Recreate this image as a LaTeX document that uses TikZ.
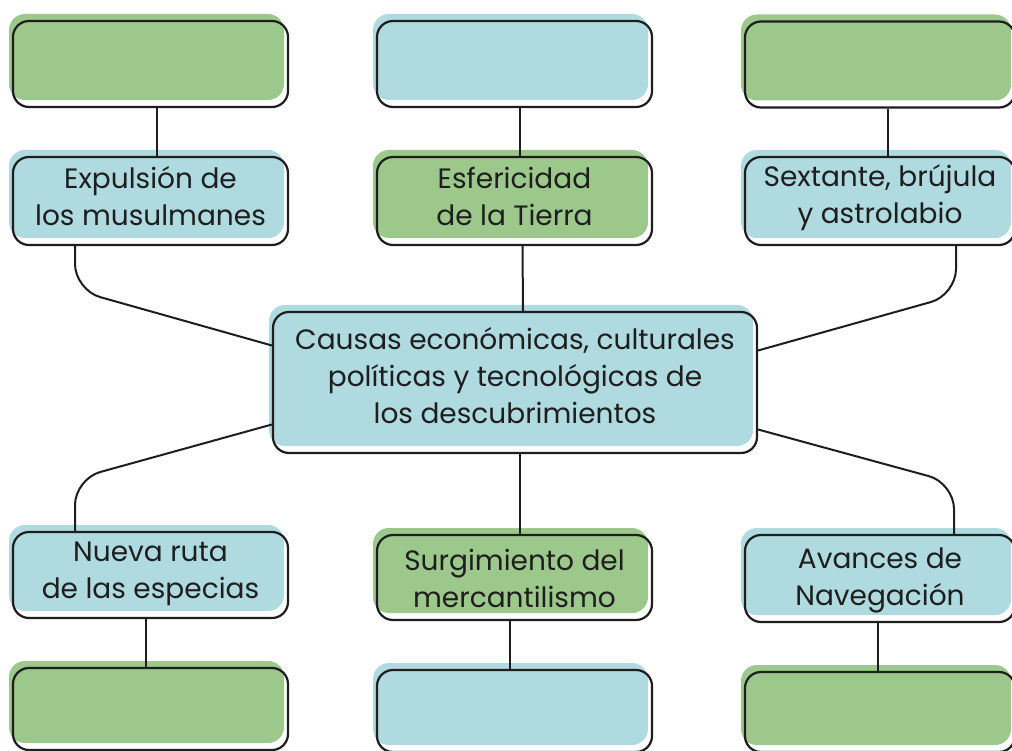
\documentclass[tikz,border=0pt]{standalone}
\usepackage{fontspec}
\setmainfont{Poppins}
\definecolor{boxblue}{HTML}{AEDAE0}
\definecolor{boxgreen}{HTML}{9CC98B}
\definecolor{ink}{HTML}{1E1E1E}
\tikzset{
  box/.style={draw=ink, line width=2.2pt, rounded corners=16pt, inner sep=0pt},
  bluebox/.style={box, preaction={fill=boxblue, transform canvas={xshift=-4pt, yshift=7pt}}},
  greenbox/.style={box, preaction={fill=boxgreen, transform canvas={xshift=-4pt, yshift=7pt}}},
  txt/.style={inner sep=0pt, align=center, text=ink, font=\fontsize{28}{37}\selectfont},
  link/.style={draw=ink, line width=2pt, rounded corners=26pt},
}
\begin{document}
\begin{tikzpicture}[x=1pt, y=-1pt]
\useasboundingbox (0,0) rectangle (1012,751);
% top row
\node[greenbox, minimum width=275pt, minimum height=86pt] (A1) at (150.5,64) {};
\node[bluebox,  minimum width=275pt, minimum height=86pt] (A2) at (514.5,64) {};
\node[greenbox, minimum width=270pt, minimum height=86pt] (A3) at (880,64.5) {};
% second row
\node[bluebox,  minimum width=275pt, minimum height=88pt] (B1) at (150.5,201) {};
\node[greenbox, minimum width=275pt, minimum height=88pt] (B2) at (514.5,201) {};
\node[bluebox,  minimum width=270pt, minimum height=88pt] (B3) at (880,201) {};
\node[txt] (tB1) at ([yshift=5pt]B1.center) {Expulsión de\\los musulmanes};
\node[txt] (tB2) at ([yshift=5pt]B2.center) {Esfericidad\\de la Tierra};
\node[txt] (tB3) at ([yshift=3pt]B3.center) {Sextante, brújula\\y astrolabio};
% center
\node[bluebox, minimum width=484pt, minimum height=141pt] (C) at (515,382.5) {};
\node[txt] (tC) at ([yshift=7pt]C.center)
  {Causas económicas, culturales\\políticas y tecnológicas de\\los descubrimientos};
% fourth row
\node[bluebox,  minimum width=275pt, minimum height=86pt] (D1) at (150.5,575) {};
\node[greenbox, minimum width=275pt, minimum height=85pt] (D2) at (514.5,577.5) {};
\node[bluebox,  minimum width=270pt, minimum height=87pt] (D3) at (880,578.5) {};
\node[txt] (tD1) at ([yshift=1.5pt]D1.center) {Nueva ruta\\de las especias};
\node[txt] (tD2) at ([yshift=-1pt]D2.center) {Surgimiento del\\mercantilismo};
\node[txt] (tD3) at ([yshift=-2pt]D3.center) {Avances de\\Navegación};
% bottom row
\node[greenbox, minimum width=275pt, minimum height=82pt] (E1) at (150.5,709) {};
\node[bluebox,  minimum width=275pt, minimum height=82pt] (E2) at (514.5,711) {};
\node[greenbox, minimum width=270pt, minimum height=80pt] (E3) at (880,712) {};
% bend points
\coordinate (k1) at (75,290);
\coordinate (k2) at (956,295);
\coordinate (k3) at (75,479);
\coordinate (k4) at (954,483);
% straight connectors
\draw[link] ([xshift=6.5pt]A1.south) -- ([xshift=6.5pt]B1.north);
\draw[link] ([xshift=5.5pt]A2.south) -- ([xshift=5.5pt]B2.north);
\draw[link] ([xshift=7.5pt]A3.south) -- ([xshift=7.5pt]B3.north);
\draw[link] ([xshift=8pt]B2.south) -- ([xshift=8pt]C.north);
\draw[link] ([xshift=5pt]C.south) -- ([xshift=5.5pt]D2.north);
\draw[link] ([xshift=-4.5pt]D1.south) -- ([xshift=-4.5pt]E1.north);
\draw[link] ([xshift=-4.5pt]D2.south) -- ([xshift=-4.5pt]E2.north);
\draw[link] ([xshift=-2pt]D3.south) -- ([xshift=-2pt]E3.north);
% bent connectors
\draw[link] (B1.south -| k1) -- (k1) -- ([yshift=37pt]C.west);
\draw[link] (B3.south -| k2) -- (k2) -- ([yshift=32pt]C.east);
\draw[link] ([yshift=-42pt]C.west) -- (k3) -- (D1.north -| k3);
\draw[link] ([yshift=-47pt]C.east) -- (k4) -- (D3.north -| k4);
\end{tikzpicture}
\end{document}
